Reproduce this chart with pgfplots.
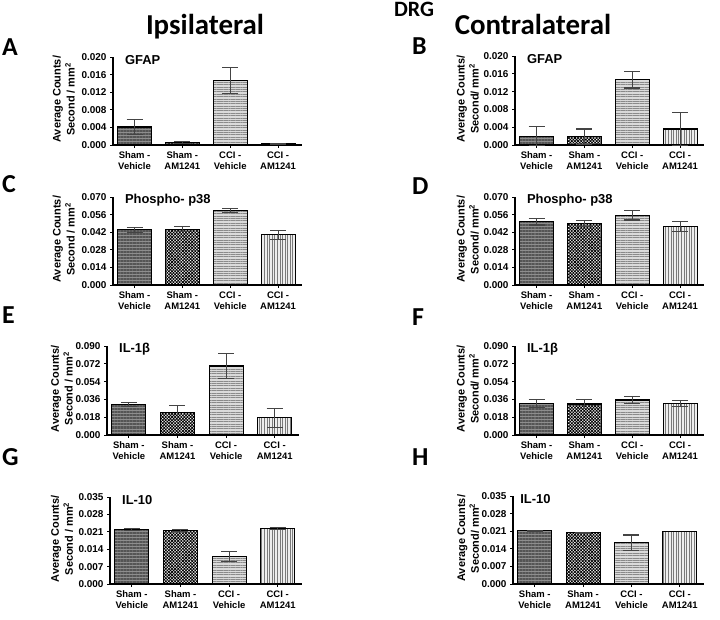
\documentclass[border=0pt]{standalone}
\usepackage{fontspec}
\setmainfont{Liberation Sans}
\newfontfamily\calib{Carlito}
\usepackage{pgfplots}
\pgfplotsset{compat=1.18}
\usetikzlibrary{patterns.meta}
\definecolor{g1}{HTML}{8E8E8E}
\definecolor{g1d}{HTML}{555555}
\definecolor{g3}{HTML}{DADADA}
\definecolor{g3d}{HTML}{8A8A8A}
\definecolor{g4}{HTML}{EEEEEE}
\definecolor{g4d}{HTML}{7A7A7A}
\definecolor{errc}{HTML}{444444}
\pgfplotsset{
  panel/.style={
    scale only axis, width=189bp, height=88bp,
    xmin=-0.45, xmax=3.5, ymin=0,
    axis x line*=bottom, axis y line*=left,
    axis line style={line width=1.1pt, -},
    tick align=outside, major tick length=3bp,
    tick style={line width=0.9pt, black},
    xtick={0,1,2,3},
    xticklabels={{Sham -\\Vehicle},{Sham -\\AM1241},{CCI -\\Vehicle},{CCI -\\AM1241}},
    xticklabel style={align=center, font=\fontsize{9.5}{11}\selectfont\bfseries},
    yticklabel style={font=\fontsize{10}{12}\selectfont\bfseries, /pgf/number format/.cd, fixed, fixed zerofill, precision=3, assume math mode=true},
    scaled y ticks=false,
    ylabel style={align=center, font=\fontsize{11}{14}\selectfont\bfseries, anchor=center},
    clip=false,
  },
  bb/.style={ybar, bar shift=0pt, bar width=34bp, draw=black, line width=1.1pt},
  b1/.style={bb, fill=g1, postaction={pattern={Lines[angle=0,distance=1.5pt,line width=0.45pt]}, pattern color=g1d}},
  b2/.style={bb, fill=white, postaction={pattern={Hatch[angle=45,distance=2.2pt,line width=0.75pt]}, pattern color=black}},
  b3/.style={bb, fill=g3, postaction={pattern={Lines[angle=0,distance=2.4pt,line width=0.5pt]}, pattern color=g3d}},
  b4/.style={bb, fill=g4, postaction={pattern={Lines[angle=90,distance=2.6pt,line width=0.5pt]}, pattern color=g4d}},
  eb/.style={draw=none, mark=none, forget plot, error bars/.cd, y dir=both, y explicit,
    error bar style={line width=1.1pt, draw=errc},
    error mark options={rotate=90, mark size=8bp, line width=1.1pt, draw=errc}},
}
\newcommand{\ttl}[2][0.045]{\node[anchor=west, font=\fontsize{13}{15}\selectfont\bfseries] at (axis description cs:#1,0.965) {#2};}
\begin{document}
\begin{tikzpicture}
\useasboundingbox (0,0) rectangle (720bp,620bp);
% headings
\node[anchor=base, font=\calib\bfseries\fontsize{29}{32}\selectfont] at (205bp,585bp) {Ipsilateral};
\node[anchor=base, font=\calib\bfseries\fontsize{29}{32}\selectfont] at (533bp,585bp) {Contralateral};
\node[anchor=base, font=\calib\bfseries\fontsize{22}{26}\selectfont] at (414bp,603bp) {DRG};
\foreach \L/\x/\y in {A/2/56,B/412/55,C/2/193,D/412/195,E/2/324,F/412/326,G/2/466,H/412/466}{
  \node[anchor=base west, inner sep=0pt, font=\calib\bfseries\fontsize{26}{30}\selectfont] at (\x bp,620bp-\y bp) {\L};
}
% A
\begin{axis}[panel, at={(113bp,475bp)}, anchor=south west, ymax=0.020,
  ytick={0,0.004,0.008,0.012,0.016,0.020},
  ylabel={Average Counts/\\Second / mm\textsuperscript{2}},
  ylabel style={at={(axis description cs:-0.26,0.52)}}]
\addplot[b1] coordinates {(0,0.0041)};
\addplot[b2] coordinates {(1,0.0005)};
\addplot[b3] coordinates {(2,0.0147)};
\addplot[b4] coordinates {(3,0.0003)};
\addplot[eb] coordinates {(0,0.0041) +- (0,0.0017) (1,0.0005) +- (0,0.0002) (2,0.0147) +- (0,0.0030) (3,0.0003) +- (0,0.0001)};
\ttl{GFAP}
\end{axis}
% B
\begin{axis}[panel, at={(515bp,475bp)}, anchor=south west, ymax=0.020, height=89bp,
  ytick={0,0.004,0.008,0.012,0.016,0.020},
  ylabel={Average Counts/\\Second/ mm\textsuperscript{2}},
  ylabel style={at={(axis description cs:-0.25,0.52)}}]
\addplot[b1] coordinates {(0,0.0020)};
\addplot[b2] coordinates {(1,0.0019)};
\addplot[b3] coordinates {(2,0.0147)};
\addplot[b4] coordinates {(3,0.0036)};
\addplot[eb] coordinates {(0,0.0020) +- (0,0.0021) (1,0.0019) +- (0,0.0017) (2,0.0147) +- (0,0.0019) (3,0.0036) +- (0,0.0037)};
\ttl{GFAP}
\end{axis}
% C
\begin{axis}[panel, at={(113bp,335bp)}, anchor=south west, ymax=0.070,
  ytick={0,0.014,0.028,0.042,0.056,0.070},
  ylabel={Average Counts/\\Second / mm\textsuperscript{2}},
  ylabel style={at={(axis description cs:-0.26,0.52)}}]
\addplot[b1] coordinates {(0,0.0438)};
\addplot[b2] coordinates {(1,0.0445)};
\addplot[b3] coordinates {(2,0.0590)};
\addplot[b4] coordinates {(3,0.0400)};
\addplot[eb] coordinates {(0,0.0438) +- (0,0.0020) (1,0.0445) +- (0,0.0020) (2,0.0590) +- (0,0.0015) (3,0.0400) +- (0,0.0035)};
\ttl{Phospho- p38}
\end{axis}
% D
\begin{axis}[panel, at={(515bp,335bp)}, anchor=south west, ymax=0.070,
  ytick={0,0.014,0.028,0.042,0.056,0.070},
  ylabel={Average Counts/\\Second/ mm\textsuperscript{2}},
  ylabel style={at={(axis description cs:-0.25,0.52)}}]
\addplot[b1] coordinates {(0,0.0504)};
\addplot[b2] coordinates {(1,0.0491)};
\addplot[b3] coordinates {(2,0.0554)};
\addplot[b4] coordinates {(3,0.0464)};
\addplot[eb] coordinates {(0,0.0504) +- (0,0.0027) (1,0.0491) +- (0,0.0024) (2,0.0554) +- (0,0.0037) (3,0.0464) +- (0,0.0040)};
\ttl{Phospho- p38}
\end{axis}
% E
\begin{axis}[panel, at={(107bp,185bp)}, anchor=south west, ymax=0.090, width=192bp, height=89bp,
  ytick={0,0.018,0.036,0.054,0.072,0.090},
  ylabel={Average Counts/\\Second / mm\textsuperscript{2}},
  ylabel style={at={(axis description cs:-0.235,0.52)}}]
\addplot[b1] coordinates {(0,0.0310)};
\addplot[b2] coordinates {(1,0.0226)};
\addplot[b3] coordinates {(2,0.0698)};
\addplot[b4] coordinates {(3,0.0175)};
\addplot[eb] coordinates {(0,0.0310) +- (0,0.0020) (1,0.0226) +- (0,0.0068) (2,0.0698) +- (0,0.0128) (3,0.0175) +- (0,0.0095)};
\ttl{IL-1β}
\end{axis}
% F
\begin{axis}[panel, at={(515bp,185bp)}, anchor=south west, ymax=0.090, height=89bp,
  ytick={0,0.018,0.036,0.054,0.072,0.090},
  ylabel={Average Counts/\\Second/ mm\textsuperscript{2}},
  ylabel style={at={(axis description cs:-0.25,0.52)}}]
\addplot[b1] coordinates {(0,0.0320)};
\addplot[b2] coordinates {(1,0.0313)};
\addplot[b3] coordinates {(2,0.0354)};
\addplot[b4] coordinates {(3,0.0320)};
\addplot[eb] coordinates {(0,0.0320) +- (0,0.0041) (1,0.0313) +- (0,0.0048) (2,0.0354) +- (0,0.0034) (3,0.0320) +- (0,0.0031)};
\ttl{IL-1β}
\end{axis}
% G
\begin{axis}[panel, at={(110bp,36bp)}, anchor=south west, ymax=0.035, width=192bp, height=87bp,
  ytick={0,0.007,0.014,0.021,0.028,0.035},
  ylabel={Average Counts/\\Second / mm\textsuperscript{2}},
  ylabel style={at={(axis description cs:-0.25,0.52)}}]
\addplot[b1] coordinates {(0,0.0218)};
\addplot[b2] coordinates {(1,0.0214)};
\addplot[b3] coordinates {(2,0.0110)};
\addplot[b4] coordinates {(3,0.0225)};
\addplot[eb] coordinates {(0,0.0218) +- (0,0.0004) (1,0.0214) +- (0,0.0004) (2,0.0110) +- (0,0.0020) (3,0.0225) +- (0,0.0004)};
\ttl{IL-10}
\end{axis}
% H
\begin{axis}[panel, at={(513bp,36bp)}, anchor=south west, ymax=0.035, width=191bp,
  ytick={0,0.007,0.014,0.021,0.028,0.035},
  ylabel={Average Counts/\\Second/ mm\textsuperscript{2}},
  ylabel style={at={(axis description cs:-0.235,0.52)}}]
\addplot[b1] coordinates {(0,0.0211)};
\addplot[b2] coordinates {(1,0.0204)};
\addplot[b3] coordinates {(2,0.0164)};
\addplot[b4] coordinates {(3,0.0208)};
\addplot[eb] coordinates {(0,0.0211) +- (0,0.0002) (1,0.0204) +- (0,0.0001) (2,0.0164) +- (0,0.0031)};
\ttl[0.02]{IL-10}
\end{axis}
\end{tikzpicture}
\end{document}
